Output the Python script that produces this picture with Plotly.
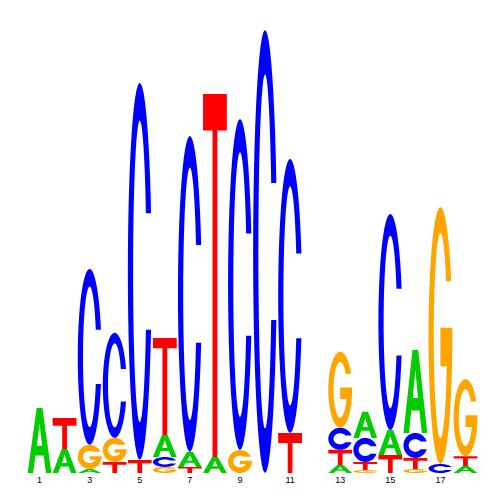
import math
import plotly.graph_objects as go

# Posiciones del motivo y altura (bits) de cada letra
posiciones = list(range(1, 19))
bits_A = [0.289, 0.107, 0.018, 0, 0, 0.098, 0.067, 0.071, 0, 0, 0, 0, 0.036, 0.116, 0.111, 0.369, 0, 0.031]
bits_C = [0, 0, 0.782, 0.467, 1.676, 0.044, 1.404, 0, 1.471, 1.969, 1.218, 0, 0.098, 0.107, 0.960, 0.111, 0.040, 0]
bits_G = [0, 0, 0.107, 0.107, 0, 0.027, 0, 0, 0.102, 0, 0, 0, 0.338, 0.013, 0, 0.018, 1.142, 0.342]
bits_T = [0, 0.138, 0, 0.049, 0.058, 0.431, 0.027, 1.613, 0, 0, 0.178, 0, 0.067, 0.036, 0.080, 0.049, 0, 0.044]

tick_vals = [1, 3, 5, 7, 9, 11, 13, 15, 17]
tick_text = ["1", "3", "5", "7", "9", "11", "13", "15", "17"]

colores = {"A": "#00cc00", "C": "#0000ff", "G": "#ffa500", "T": "#ff0000"}


def grosor(h):
    # grosor vertical relativo del trazo (más grueso en letras bajas)
    return min(0.25, max(0.1, 0.045 / h))


def elipse(cx, cy, rx, ry, a_ini, a_fin, n=48):
    pts = []
    for k in range(n + 1):
        a = math.radians(a_ini + (a_fin - a_ini) * k / n)
        pts.append((cx + rx * math.cos(a), cy + ry * math.sin(a)))
    return pts


def glifo(letra, h):
    t = grosor(h)
    if letra == "T":
        return [[(0, 1), (1, 1), (1, 1 - t), (0.6, 1 - t), (0.6, 0), (0.4, 0), (0.4, 1 - t), (0, 1 - t)]]
    if letra == "A":
        exterior = [(0, 0), (0.38, 1), (0.62, 1), (1, 0), (0.77, 0), (0.67, 0.27),
                    (0.33, 0.27), (0.23, 0)]
        hueco = [(0.39, 0.42), (0.5, 0.76), (0.61, 0.42)]
        return [exterior, hueco]
    rx_i, ry_i = 0.28, 0.5 - t
    if letra == "C":
        a0 = 18
        f0 = math.degrees(math.asin(min(1, 0.5 * math.sin(math.radians(a0)) / ry_i)))
        pts = elipse(0.5, 0.5, 0.5, 0.5, a0, 360 - a0)
        pts += elipse(0.5, 0.5, rx_i, ry_i, 360 - f0, f0)
        return [pts]
    # G
    a0 = 25
    f0 = math.degrees(math.asin(min(1, 0.5 * math.sin(math.radians(a0)) / ry_i)))
    yb_sup, yb_inf = 0.53, 0.38
    fb = 360 + math.degrees(math.asin(max(-1, (yb_inf - 0.5) / ry_i)))
    pts = elipse(0.5, 0.5, 0.5, 0.5, a0, 360)
    pts += [(1, yb_sup), (0.5, yb_sup), (0.5, yb_inf)]
    pts += elipse(0.5, 0.5, rx_i, ry_i, fb, f0)
    return [pts]


def a_path(poligonos, x0, y0, w, h):
    partes = []
    for pol in poligonos:
        coords = [f"{x0 + u * w:.4f},{y0 + v * h:.4f}" for u, v in pol]
        partes.append("M " + " L ".join(coords) + " Z")
    return " ".join(partes)


fig = go.Figure()
fig.add_trace(go.Scatter(x=posiciones, y=[0] * len(posiciones), mode="markers",
                         marker=dict(opacity=0), hoverinfo="skip", showlegend=False))

ancho = 0.95
formas = []
for i, pos in enumerate(posiciones):
    letras = [("A", bits_A[i]), ("C", bits_C[i]), ("G", bits_G[i]), ("T", bits_T[i])]
    letras = sorted([l for l in letras if l[1] > 0.003], key=lambda l: l[1])
    base = 0
    for letra, h in letras:
        formas.append(dict(
            type="path", xref="x", yref="y",
            path=a_path(glifo(letra, h), pos - ancho / 2, base, ancho, h),
            fillcolor=colores[letra], fillrule="evenodd",
            line=dict(width=0),
        ))
        base += h

# la página añade 8 px de margen al body: se compensa aquí
fig.update_layout(
    width=500, height=500,
    shapes=formas,
    plot_bgcolor="white",
    paper_bgcolor="white",
    margin=dict(l=19, r=30, t=15, b=35),
    showlegend=False,
    xaxis=dict(range=[0.5, 18.5], tickvals=tick_vals, ticktext=tick_text,
               showgrid=False, zeroline=False, showline=False, ticks="",
               tickfont=dict(family="Liberation Sans", size=9, color="black")),
    yaxis=dict(range=[0, 2], visible=False),
)

fig.write_html("out.html")
